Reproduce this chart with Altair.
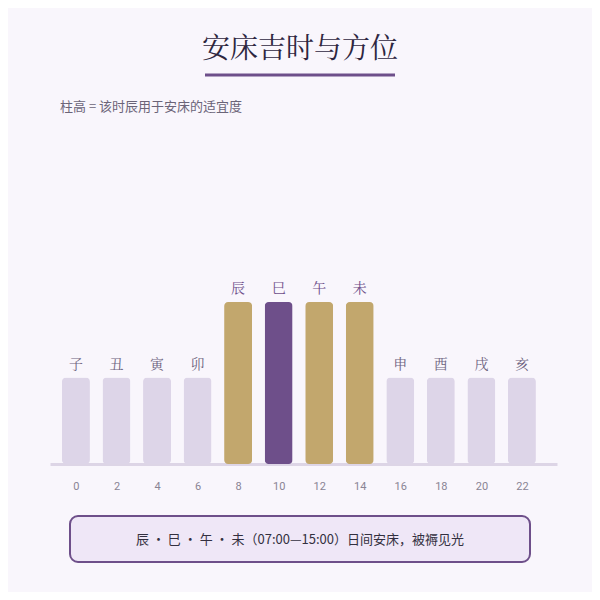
import altair as alt
import pandas as pd

hours = [0, 2, 4, 6, 8, 10, 12, 14, 16, 18, 20, 22]
branches = ["子", "丑", "寅", "卯", "辰", "巳", "午", "未", "申", "酉", "戌", "亥"]
suitability = [40, 40, 40, 40, 75, 75, 75, 75, 40, 40, 40, 40]
kind = ["low", "low", "low", "low", "good", "best", "good", "good", "low", "low", "low", "low"]

title_text = "安床吉时与方位"
subtitle_text = "柱高 = 该时辰用于安床的适宜度"
note_text = "辰 · 巳 · 午 · 未（07:00—15:00）日间安床，被褥见光"

df = pd.DataFrame({"hour": hours, "branch": branches, "value": suitability,
                   "kind": kind, "lkind": kind})

W, H = 507, 216
x_scale = alt.Scale(domain=[-1.28, 23.73], nice=False, zero=False, padding=0)
y_scale = alt.Scale(domain=[0, 100], nice=False)

color_scale = alt.Scale(domain=["low", "good", "best"], range=["#ddd5e8", "#c2a76d", "#6e4f8a"])
label_scale = alt.Scale(domain=["low", "good", "best"], range=["#6e6480", "#6e4f8a", "#6e4f8a"])

base = alt.Chart(df)

bars = base.mark_bar(size=28, cornerRadius=4).encode(
    x=alt.X("hour:Q", scale=x_scale,
            axis=alt.Axis(values=hours, format="d", ticks=False, grid=False,
                          domainColor="#ddd5e6", domainWidth=3, labelColor="#8a8494",
                          labelFontSize=11, labelPadding=16, labelFont="Roboto", title=None)),
    y=alt.Y("value:Q", scale=y_scale, axis=None),
    color=alt.Color("kind:N", scale=color_scale, legend=None),
)

labels = base.mark_text(dy=-13, fontSize=14, baseline="middle",
                        font="Noto Serif CJK SC, Noto Sans CJK SC").encode(
    x=alt.X("hour:Q", scale=x_scale),
    y=alt.Y("value:Q", scale=y_scale),
    text="branch:N",
    color=alt.Color("lkind:N", scale=label_scale, legend=None),
)

deco = alt.Chart(pd.DataFrame({"t": [title_text]}))

title = deco.mark_text(fontSize=28, font="Noto Serif CJK SC, Noto Sans CJK SC", color="#2e2640",
                       align="center", baseline="middle").encode(
    x=alt.value(250), y=alt.value(-198), text="t:N")

underline = deco.mark_rule(color="#6e4f8a", strokeWidth=3).encode(
    x=alt.value(155), x2=alt.value(345), y=alt.value(-173))

subtitle = alt.Chart(pd.DataFrame({"t": [subtitle_text]})).mark_text(
    fontSize=13, font="Noto Sans CJK SC", color="#6b6478", align="left", baseline="middle").encode(
    x=alt.value(10), y=alt.value(-141), text="t:N")

box = deco.mark_rect(cornerRadius=8, fill="#efe7f7", stroke="#6e4f8a", strokeWidth=2).encode(
    x=alt.value(20), x2=alt.value(480), y=alt.value(268), y2=alt.value(314))

note = alt.Chart(pd.DataFrame({"t": [note_text]})).mark_text(
    fontSize=13, font="Noto Sans CJK SC", color="#333040", align="center", baseline="middle").encode(
    x=alt.value(250), y=alt.value(292), text="t:N")

chart = alt.layer(bars, labels, title, underline, subtitle, box, note).resolve_scale(
    color="independent"
).properties(
    width=W, height=H,
    autosize=alt.AutoSizeParams(type="none"),
    padding={"left": 42, "top": 240, "right": 35, "bottom": 128},
    background="#f9f6fc",
).configure_view(stroke=None)

chart.save("out.html", embed_options={"renderer": "svg", "actions": False})
